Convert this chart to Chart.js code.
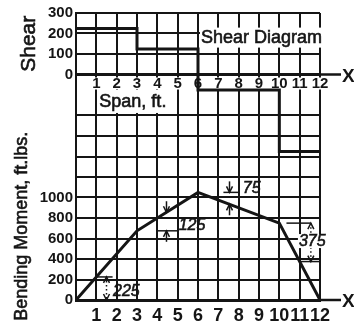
<!DOCTYPE html>
<html lang="en">
<head>
<meta charset="UTF-8">
<title>Shear and Bending Moment Diagram</title>
<script src="https://cdn.jsdelivr.net/npm/chart.js"></script>
<style>
  html, body { margin: 0; padding: 0; background: #fff; }
  canvas { display: block; }
</style>
</head>
<body>
<canvas id="beamChart" width="354" height="326"></canvas>
<script>
// Span positions (ft) where the shear changes
const spanFt = [0, 3, 6, 10, 12];
// Shear (lbs) on the segment starting at each span position
const shearLbs = [225, 125, -75, -375, -375];
// Bending moment (ft.lbs.) at each span position
const momentFtLbs = [0, 675, 1050, 750, 0];

const spanTicks = [1, 2, 3, 4, 5, 6, 7, 8, 9, 10, 11, 12];
const shearTicks = [0, 100, 200, 300];
const momentTicks = [0, 200, 400, 600, 800, 1000];
// change of moment per foot, written beside the moment line
const slopeLabels = ['225', '125', '75', '375'];

// Both diagrams share one grid: the moment axis runs 0..2800 over the
// whole height, the shear baseline sits at the 2200 line, 1 lb = 2 ft.lbs.
const MOMENT_TOP = 2800;
const SHEAR_ZERO = 2200;
const LABEL_ROW = 2000; // grid line left out where the span numbers sit

const ink = '#151515';
const face = "'Liberation Sans', Arial, sans-serif";

function momentAt(ft) {
  for (let i = 1; i < spanFt.length; i++) {
    if (ft <= spanFt[i]) {
      const t = (ft - spanFt[i - 1]) / (spanFt[i] - spanFt[i - 1]);
      return momentFtLbs[i - 1] + t * (momentFtLbs[i] - momentFtLbs[i - 1]);
    }
  }
  return momentFtLbs[momentFtLbs.length - 1];
}

function seg(ctx, x1, y1, x2, y2) {
  ctx.beginPath();
  ctx.moveTo(x1, y1);
  ctx.lineTo(x2, y2);
  ctx.stroke();
}

// lettering a little heavier than the plain face
function inkText(ctx, text, x, y) {
  ctx.lineWidth = 0.6;
  ctx.strokeStyle = ink;
  ctx.fillStyle = ink;
  ctx.fillText(text, x, y);
  ctx.strokeText(text, x, y);
}

// open arrow head, dir 1 points down, -1 points up
function head(ctx, px, tipY, dir) {
  ctx.beginPath();
  ctx.moveTo(px - 3, tipY - dir * 6);
  ctx.lineTo(px, tipY);
  ctx.lineTo(px + 3, tipY - dir * 6);
  ctx.stroke();
}

const callouts = [
  { text: slopeLabels[0], at: 1.5, top: 225, bottom: 0, inside: true,
    ticks: [[1, 1.8, 225]], textAt: [1.82, 78], align: 'left' },
  { text: slopeLabels[1], at: 4.45, top: null, bottom: 675, inside: false,
    ticks: [[4.0, 5.0, 675]], textAt: [5.05, 722], align: 'left' },
  { text: slopeLabels[2], at: 7.55, top: 1050, bottom: null, inside: false,
    ticks: [[7.25, 8.05, 1050]], textAt: [8.2, 1085], align: 'left' },
  { text: slopeLabels[3], at: 11.55, top: 750, bottom: 375, inside: true,
    ticks: [[10.35, 11.55, 750], [11.0, 12.0, 375]], textAt: [11.62, 575], align: 'center', knockout: true }
];

const diagramText = {
  id: 'diagramText',
  beforeDatasetsDraw(chart) {
    const { ctx, scales: { x, y, shear } } = chart;
    ctx.save();
    ctx.textBaseline = 'middle';

    // span numbers under the shear baseline
    ctx.font = 'bold 15px ' + face;
    ctx.textAlign = 'center';
    const rowY = y.getPixelForValue(2112);
    spanTicks.forEach(t => {
      const px = x.getPixelForValue(t);
      const w = ctx.measureText(String(t)).width;
      ctx.fillStyle = '#fff';
      ctx.fillRect(px - w / 2 - 1, rowY - 6, w + 2, 12);
      ctx.fillStyle = ink;
      ctx.fillText(String(t), px, rowY);
    });

    // "Span, ft." caption
    ctx.font = '18px ' + face;
    ctx.textAlign = 'left';
    const spanX = x.getPixelForValue(1) + 3;
    const spanY = y.getPixelForValue(1932);
    const spanW = ctx.measureText('Span, ft.').width;
    ctx.fillStyle = '#fff';
    ctx.fillRect(spanX - 1, spanY - 12, spanW + 3, 23);
    inkText(ctx, 'Span, ft.', spanX, spanY);

    // "Shear Diagram" caption
    ctx.font = '18px ' + face;
    const capX = x.getPixelForValue(6) + 3;
    const capY = shear.getPixelForValue(180);
    const capW = ctx.measureText('Shear Diagram').width;
    ctx.fillStyle = '#fff';
    ctx.fillRect(capX - 1, capY - 10, capW + 3, 20);
    inkText(ctx, 'Shear Diagram', capX, capY);
    ctx.restore();
  },
  afterDatasetsDraw(chart) {
    const { ctx, scales: { x, y, shear } } = chart;
    ctx.save();
    ctx.strokeStyle = ink;
    ctx.fillStyle = ink;

    // slope call-outs on the moment diagram
    callouts.forEach(c => {
      const px = x.getPixelForValue(c.at);
      const topY = y.getPixelForValue(c.top === null ? momentAt(c.at) : c.top);
      const botY = y.getPixelForValue(c.bottom === null ? momentAt(c.at) : c.bottom);
      ctx.lineWidth = 1.5;
      c.ticks.forEach(([a, b, v]) => {
        seg(ctx, x.getPixelForValue(a), y.getPixelForValue(v), x.getPixelForValue(b), y.getPixelForValue(v));
      });
      if (c.inside) {
        ctx.setLineDash([1.5, 2.5]);
        seg(ctx, px, topY, px, botY);
        ctx.setLineDash([]);
        head(ctx, px, topY, -1);
        head(ctx, px, botY, 1);
      } else {
        seg(ctx, px, topY - 11, px, topY);
        head(ctx, px, topY, 1);
        seg(ctx, px, botY, px, botY + 11);
        head(ctx, px, botY, -1);
      }
      ctx.font = 'italic 16px ' + face;
      ctx.textAlign = c.align;
      ctx.textBaseline = 'middle';
      const tx = x.getPixelForValue(c.textAt[0]);
      const ty = y.getPixelForValue(c.textAt[1]);
      if (c.knockout) {
        const w = ctx.measureText(c.text).width;
        ctx.fillStyle = '#fff';
        ctx.fillRect(tx - w / 2 - 1, ty - 7, w + 2, 14);
      }
      inkText(ctx, c.text, tx, ty);
    });

    // baselines run past the grid to the X marks
    const right = x.getPixelForValue(12);
    ctx.font = 'bold 19px ' + face;
    ctx.textAlign = 'left';
    ctx.textBaseline = 'middle';
    [shear.getPixelForValue(0), y.getPixelForValue(0)].forEach(by => {
      ctx.lineWidth = 2.5;
      seg(ctx, right, by, right + 21, by);
      ctx.fillText('X', right + 22, by + 2);
    });

    // axis titles
    ctx.textAlign = 'center';
    ctx.save();
    ctx.translate(29, shear.getPixelForValue(150));
    ctx.rotate(-Math.PI / 2);
    ctx.font = '21px ' + face;
    inkText(ctx, 'Shear', 0, 0);
    ctx.restore();

    ctx.save();
    ctx.translate(22, y.getPixelForValue(720));
    ctx.rotate(-Math.PI / 2);
    ctx.font = '18px ' + face;
    inkText(ctx, 'Bending Moment, ft.lbs.', 0, 0);
    ctx.restore();

    ctx.restore();
  }
};

const gridWidth = c => (c.tick && (c.tick.value === 0 || c.tick.value === SHEAR_ZERO)) ? 3 : 2;

new Chart(document.getElementById('beamChart'), {
  type: 'line',
  data: {
    datasets: [
      {
        label: 'Shear',
        yAxisID: 'shear',
        data: spanFt.map((ft, i) => ({ x: ft, y: shearLbs[i] })),
        stepped: 'before',
        borderColor: ink,
        borderWidth: 3,
        pointRadius: 0
      },
      {
        label: 'Bending Moment',
        yAxisID: 'y',
        data: spanFt.map((ft, i) => ({ x: ft, y: momentFtLbs[i] })),
        borderColor: ink,
        borderWidth: 3,
        pointRadius: 0,
        tension: 0
      }
    ]
  },
  options: {
    responsive: false,
    animation: false,
    devicePixelRatio: 1,
    layout: { padding: { left: 0, right: 34, top: 13, bottom: 0 } },
    plugins: { legend: { display: false }, tooltip: { enabled: false } },
    scales: {
      x: {
        type: 'linear',
        min: 0,
        max: 12,
        afterFit: s => { s.height = 26; },
        ticks: {
          stepSize: 1,
          autoSkip: false,
          maxRotation: 0,
          minRotation: 0,
          padding: 5,
          color: ink,
          font: { family: face, size: 18, weight: 'bold' },
          callback: v => spanTicks.includes(v) ? String(v) : ''
        },
        grid: { color: ink, lineWidth: 2, drawTicks: false },
        border: { color: ink, width: 3 }
      },
      y: {
        position: 'left',
        min: 0,
        max: MOMENT_TOP,
        afterFit: s => { s.width = 76; },
        ticks: {
          stepSize: 200,
          autoSkip: false,
          padding: 3,
          color: ink,
          font: { family: face, size: 15, weight: 'bold' },
          callback: v => {
            if (momentTicks.includes(v)) return String(v);
            const s = (v - SHEAR_ZERO) / 2;
            if (v >= SHEAR_ZERO && shearTicks.includes(s)) return String(s);
            return '';
          }
        },
        grid: {
          color: c => (c.tick && c.tick.value === LABEL_ROW) ? 'rgba(0,0,0,0)' : ink,
          lineWidth: gridWidth,
          drawTicks: false
        },
        border: { color: ink, width: 2 }
      },
      shear: {
        display: false,
        position: 'left',
        min: -SHEAR_ZERO / 2,
        max: (MOMENT_TOP - SHEAR_ZERO) / 2
      }
    }
  },
  plugins: [diagramText]
});
</script>
</body>
</html>
